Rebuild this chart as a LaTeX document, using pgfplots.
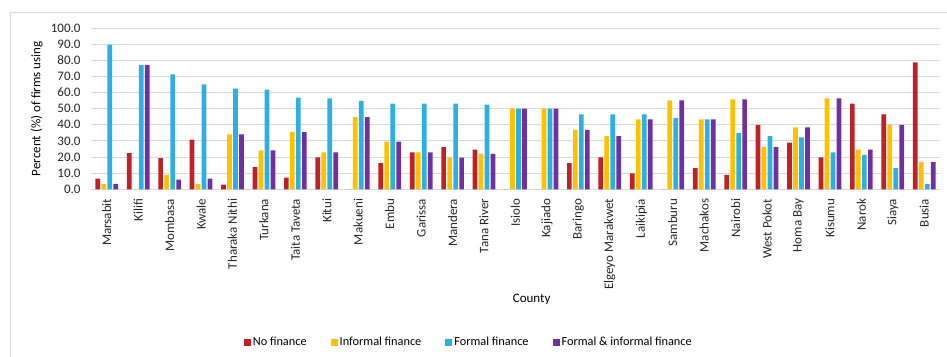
\documentclass[border=0pt]{standalone}
\usepackage{pgfplots}
\pgfplotsset{compat=1.18}
\usepackage{pgfplotstable}
\usepackage{fontspec}
\setmainfont{Carlito}
\definecolor{cred}{RGB}{192,32,40}
\definecolor{cyel}{RGB}{255,192,0}
\definecolor{cblu}{RGB}{44,176,228}
\definecolor{cpur}{RGB}{112,48,160}
\definecolor{cgrid}{RGB}{217,217,217}
\pgfplotstableread{
x nf inf form both
0 6.6 3.3 89.7 3.3
1 22.5 0 77.1 77.1
2 19.4 8.9 71.3 6.0
3 30.8 3.3 65.1 6.6
4 2.9 34.1 62.4 34.1
5 13.8 24.2 61.8 24.2
6 7.2 35.5 56.8 35.5
7 19.8 22.9 56.4 22.9
8 0 44.8 54.8 44.8
9 16.3 29.5 53.1 29.5
10 22.9 22.9 53.1 22.9
11 26.2 19.6 53.1 19.6
12 24.6 21.9 52.5 21.9
13 0 50.0 50.0 50.0
14 0 50.0 50.0 50.0
15 16.3 36.8 46.5 36.8
16 19.8 32.9 46.5 32.9
17 9.9 43.4 46.5 43.4
18 0 55.2 44.2 55.2
19 13.2 43.4 43.4 43.4
20 8.9 55.8 34.9 55.8
21 39.9 26.2 32.9 26.2
22 28.9 38.4 32.2 38.4
23 19.8 56.4 22.9 56.4
24 53.1 24.6 21.3 24.6
25 46.5 39.9 13.2 39.9
26 78.7 16.9 3.3 16.9
}\data
\begin{document}
\begin{tikzpicture}
\draw[cgrid, line width=0.8pt] (-81pt,-170pt) -- (-81pt,177.3pt) -- (860pt,177.3pt);
\begin{axis}[
  at={(0pt,0pt)}, anchor=south west,
  scale only axis,
  width=849pt, height=161.3pt,
  ybar=1.3pt, bar width=4.7pt,
  xmin=-0.5, xmax=26.5, ymin=0, ymax=100,
  xtick=data,
  xticklabels={Marsabit,Kilifi,Mombasa,Kwale,Tharaka Nithi,Turkana,Taita Taveta,Kitui,Makueni,Embu,Garissa,Mandera,Tana River,Isiolo,Kajiado,Baringo,Elgeyo Marakwet,Laikipia,Samburu,Machakos,Nairobi,West Pokot,Homa Bay,Kisumu,Narok,Siaya,Busia},
  ytick distance=10,
  major tick length=0pt,
  axis x line*=bottom, axis y line*=left,
  y axis line style={draw=none},
  x axis line style={draw=cgrid, line width=1pt},
  ymajorgrids, grid style={cgrid, line width=0.9pt},
  /pgf/number format/assume math mode=true,
  yticklabel style={/pgf/number format/fixed, /pgf/number format/fixed zerofill, /pgf/number format/precision=1, xshift=-7pt},
  ticklabel style={font=\fontsize{13}{15}\selectfont, text=black!85},
  xticklabel style={yshift=-6pt, rotate=90, anchor=east},
  xlabel={County},
  xlabel style={at={(axis description cs:0.519,-0.68)}, anchor=center, font=\fontsize{13}{15}\selectfont},
  ylabel={Percent (\%) of firms using},
  ylabel style={at={(axis description cs:-0.0640,0.5)}, anchor=center, font=\fontsize{13}{15}\selectfont},
  legend columns=-1,
  legend style={at={(axis description cs:0.445,-0.947)}, anchor=center, draw=none, fill=none,
    font=\fontsize{12.3}{14}\selectfont,
    /tikz/every even column/.append style={column sep=22pt}},
  legend image code/.code={\fill[#1] (0pt,-3.5pt) rectangle (7pt,3.5pt);},
]
\addplot[fill=cred, draw=none] table[x=x,y=nf]{\data};
\addplot[fill=cyel, draw=none] table[x=x,y=inf]{\data};
\addplot[fill=cblu, draw=none] table[x=x,y=form]{\data};
\addplot[fill=cpur, draw=none] table[x=x,y=both]{\data};
\legend{No finance, Informal finance, Formal finance, Formal \& informal finance}
\end{axis}
\pgfresetboundingbox
\useasboundingbox (-91pt,-166.7pt) rectangle (856pt,189.3pt);
\end{tikzpicture}
\end{document}
